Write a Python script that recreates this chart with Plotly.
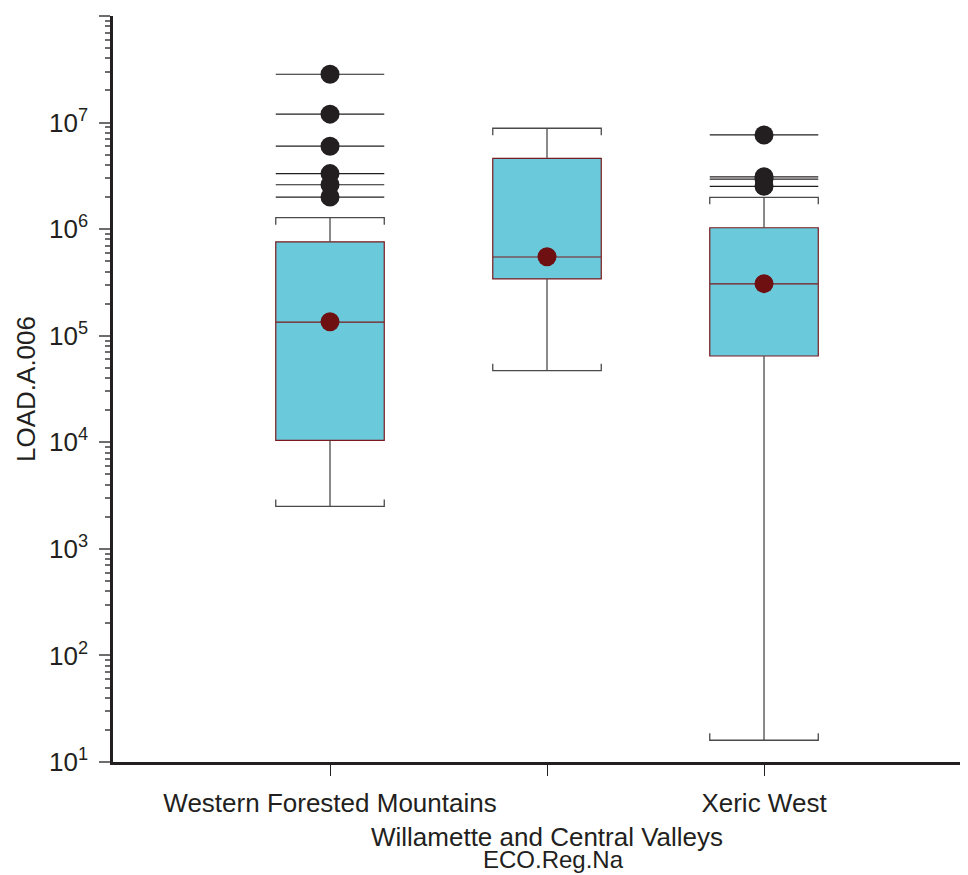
import plotly.graph_objects as go

# ---------------- data ----------------
categories = ["Western Forested Mountains", "Willamette and Central Valleys", "Xeric West"]
x_tick_text = ["Western Forested Mountains", "<br>Willamette and Central Valleys", "Xeric West"]
q1 = [1.04e4, 3.41e5, 6.45e4]
medians = [1.34e5, 5.48e5, 3.06e5]
q3 = [7.6e5, 4.62e6, 1.03e6]
lower_whisker = [2.5e3, 4.7e4, 16]
upper_whisker = [1.28e6, 8.85e6, 1.99e6]
means = [1.35e5, 5.5e5, 3.08e5]
outliers = [
    [2.84e7, 1.2e7, 6.0e6, 3.32e6, 2.61e6, 2.0e6],
    [],
    [7.66e6, 3.1e6, 2.95e6, 2.52e6],
]
y_tick_vals = [1e1, 1e2, 1e3, 1e4, 1e5, 1e6, 1e7, 1e8]
y_tick_text = ["10<sup>1</sup>", "10<sup>2</sup>", "10<sup>3</sup>", "10<sup>4</sup>",
               "10<sup>5</sup>", "10<sup>6</sup>", "10<sup>7</sup>", "10<sup>8</sup>"]
x_title = "ECO.Reg.Na"
y_title = "LOAD.A.006"

# ---------------- style ----------------
FONT = "Liberation Sans, Arial, sans-serif"
INK = "#231F20"
BOX_FILL = "#6ACADB"
BOX_LINE = "#7A1A1E"
MEAN_COLOR = "#6E1012"
WHISKER = "#4A4A4A"
BOX_WIDTH = 0.5
HW = BOX_WIDTH / 2
CAP_TICK = 10 ** 0.066  # bracket tick height factor on log scale
FS = 26

positions = list(range(len(categories)))

fig = go.Figure()

# whiskers with bracket caps
wx, wy = [], []
for p, lo, hi, a, b in zip(positions, lower_whisker, upper_whisker, q1, q3):
    wx += [p, p, None, p, p, None]
    wy += [b, hi, None, a, lo, None]
    wx += [p - HW, p - HW, p + HW, p + HW, None]
    wy += [hi / CAP_TICK, hi, hi, hi / CAP_TICK, None]
    wx += [p - HW, p - HW, p + HW, p + HW, None]
    wy += [lo * CAP_TICK, lo, lo, lo * CAP_TICK, None]
fig.add_trace(go.Scatter(x=wx, y=wy, mode="lines",
                         line=dict(color=WHISKER, width=1.3),
                         hoverinfo="skip", showlegend=False))

# boxes
fig.add_trace(go.Box(x=positions, q1=q1, median=medians, q3=q3,
                     lowerfence=q1, upperfence=q3, width=BOX_WIDTH,
                     whiskerwidth=0, fillcolor=BOX_FILL,
                     line=dict(color=BOX_LINE, width=1.2),
                     boxpoints=False, hoverinfo="skip", showlegend=False))

# outlier lines and dots
ox, oy, px_, py_ = [], [], [], []
for p, vals in zip(positions, outliers):
    for v in vals:
        ox += [p - HW, p + HW, None]
        oy += [v, v, None]
        px_.append(p)
        py_.append(v)
fig.add_trace(go.Scatter(x=ox, y=oy, mode="lines",
                         line=dict(color=INK, width=1.2),
                         hoverinfo="skip", showlegend=False))
fig.add_trace(go.Scatter(x=px_, y=py_, mode="markers",
                         marker=dict(color=INK, size=19, line=dict(width=0)),
                         showlegend=False))

# means
fig.add_trace(go.Scatter(x=positions, y=means, mode="markers",
                         marker=dict(color=MEAN_COLOR, size=19, line=dict(width=0)),
                         showlegend=False))

minor_vals = [m * 10 ** d for d in range(1, 8) for m in range(2, 10)]

fig.update_layout(
    width=960, height=867,
    margin=dict(l=105, r=0, t=8, b=113),
    paper_bgcolor="white", plot_bgcolor="white",
    font=dict(family=FONT, size=FS, color=INK),
    showlegend=False,
    xaxis=dict(
        range=[-1.0, 2.94], tickmode="array", tickvals=positions, ticktext=x_tick_text,
        tickangle=0, automargin=False, ticklabelstandoff=5,
        showline=True, linecolor=INK, linewidth=2.5, ticks="outside", ticklen=11,
        tickwidth=1.2, tickcolor=INK, showgrid=False, zeroline=False,
        tickfont=dict(family=FONT, size=FS, color=INK),
    ),
    yaxis=dict(
        type="log", range=[1, 8], tickmode="array", tickvals=y_tick_vals, ticktext=y_tick_text,
        automargin=False, ticklabelstandoff=6,
        showline=True, linecolor=INK, linewidth=2.5, ticks="outside", ticklen=11,
        tickwidth=1.8, tickcolor="#6D6D6D", showgrid=False, zeroline=False,
        tickfont=dict(family=FONT, size=FS, color=INK),
        title=dict(text=y_title, font=dict(family=FONT, size=FS, color=INK), standoff=6),
        minor=dict(tickmode="array", tickvals=minor_vals, ticks="outside", ticklen=5,
                   tickwidth=1.5, tickcolor="#6D6D6D", showgrid=False),
    ),
    annotations=[dict(text=x_title, xref="paper", yref="paper", x=0.515, y=-0.131,
                      xanchor="center", yanchor="middle", showarrow=False,
                      font=dict(family=FONT, size=24, color=INK))],
)

fig.write_html("out.html")
